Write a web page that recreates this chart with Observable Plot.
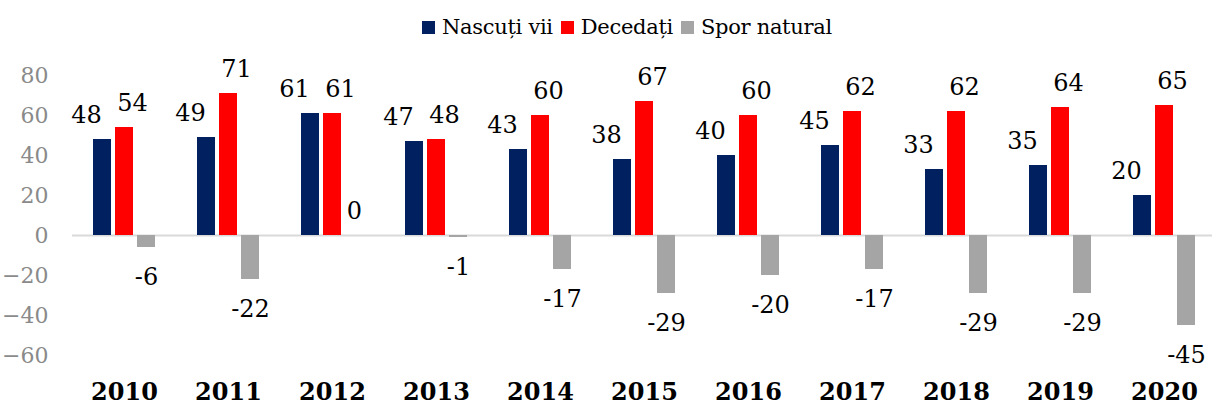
<!DOCTYPE html>
<html>
<head>
<meta charset="utf-8">
<script src="https://cdn.jsdelivr.net/npm/d3@7"></script>
<script src="https://cdn.jsdelivr.net/npm/@observablehq/plot@0.6"></script>
<style>
  html, body { margin: 0; padding: 0; background: #fff; }
  #wrap { position: relative; width: 1212px; height: 405px; overflow: hidden; }
  #legend { position: absolute; left: 422px; top: 10px; height: 34px; display: flex; align-items: center;
            color: #000; white-space: nowrap; }
  #legend .sw { width: 13px; height: 13px; display: inline-block; margin-right: 7px; }
  #legend .item { display: flex; align-items: center; margin-right: 8px; }
  #chart { position: absolute; left: 0; top: 48px; }
</style>
</head>
<body>
<div id="wrap">
  <div id="legend"></div>
  <div id="chart"></div>
</div>
<script>
const years = [2010, 2011, 2012, 2013, 2014, 2015, 2016, 2017, 2018, 2019, 2020];
const seriesNames = ["Nascuți vii", "Decedați", "Spor natural"];
const seriesColors = ["#002060", "#FF0000", "#A5A5A5"];
const nascutiVii = [48, 49, 61, 47, 43, 38, 40, 45, 33, 35, 20];
const decedati = [54, 71, 61, 48, 60, 67, 60, 62, 62, 64, 65];
const sporNatural = [-6, -22, 0, -1, -17, -29, -20, -17, -29, -29, -45];
const yTicks = [-60, -40, -20, 0, 20, 40, 60, 80];

const seriesValues = [nascutiVii, decedati, sporNatural];
const data = years.flatMap((yr, i) =>
  seriesNames.map((s, j) => ({ year: yr, series: s, value: seriesValues[j][i] }))
);

// legend
const legend = document.getElementById("legend");
seriesNames.forEach((s, j) => {
  const item = document.createElement("span");
  item.className = "item";
  const sw = document.createElement("span");
  sw.className = "sw";
  sw.style.background = seriesColors[j];
  const t = document.createElement("span");
  t.textContent = s;
  t.style.fontFamily = "'DejaVu Serif', 'Liberation Serif', serif";
  t.style.fontSize = "21px";
  t.style.letterSpacing = "-0.3px";
  item.appendChild(sw);
  item.appendChild(t);
  legend.appendChild(item);
});

const labelFont = { fontFamily: "DejaVu Serif", fontSize: 24, fill: "#000" };

const chart = Plot.plot({
  width: 1212,
  height: 357,
  marginLeft: 70,
  marginRight: -6,
  marginTop: 27,
  marginBottom: 50,
  style: { fontFamily: "DejaVu Serif", background: "transparent", overflow: "visible" },
  fx: { domain: years, padding: 0, label: null },
  x: { domain: seriesNames, paddingInner: 0.2, paddingOuter: 0.92, axis: null },
  y: { domain: [-60, 80], label: null },
  color: { domain: seriesNames, range: seriesColors },
  marks: [
    Plot.axisY({ ticks: yTicks, tickSize: 0, tickPadding: 24, label: null, fontSize: 22, color: "#8a8a8a", fontFamily: "DejaVu Serif" }),
    Plot.axisFx({ anchor: "bottom", tickSize: 0, tickPadding: 27, tickFormat: d => String(d), label: null, fontSize: 24, fontWeight: "bold", fontFamily: "DejaVu Serif", color: "#000" }),
    Plot.ruleY([0], { stroke: "#d9d9d9", strokeWidth: 2 }),
    Plot.barY(data, { fx: "year", x: "series", y: "value", fill: "series" }),
    Plot.text(data, { filter: d => d.series === seriesNames[0], fx: "year", x: "series", y: "value", text: d => String(d.value), dx: -16, dy: -24, ...labelFont }),
    Plot.text(data, { filter: d => d.series === seriesNames[1], fx: "year", x: "series", y: "value", text: d => String(d.value), dx: 8, dy: -24, ...labelFont }),
    Plot.text(data, { filter: d => d.series === seriesNames[2] && d.value >= 0, fx: "year", x: "series", y: "value", text: d => String(d.value), dy: -24, ...labelFont }),
    Plot.text(data, { filter: d => d.series === seriesNames[2] && d.value < 0, fx: "year", x: "series", y: "value", text: d => String(d.value), dy: 30, ...labelFont })
  ]
});
document.getElementById("chart").appendChild(chart);
</script>
</body>
</html>
